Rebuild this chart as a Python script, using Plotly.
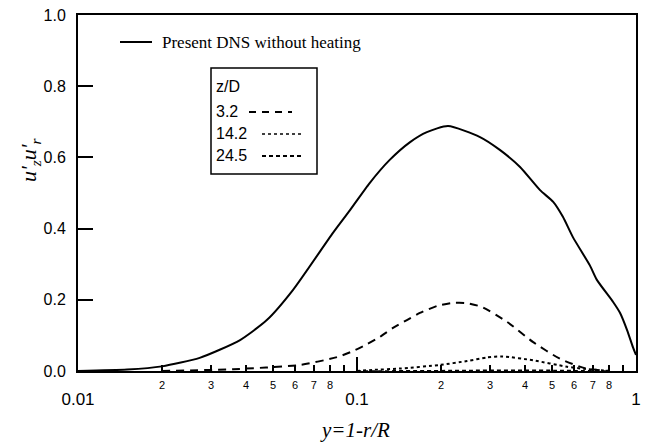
import plotly.graph_objects as go

# Data (y = 1 - r/R, log scale)
x_dns = [0.01, 0.015, 0.02, 0.0273, 0.0381, 0.0475, 0.059, 0.082, 0.0944, 0.111, 0.131, 0.155, 0.178, 0.212,
         0.276, 0.325, 0.384, 0.453, 0.505, 0.547, 0.594, 0.684, 0.724, 0.828, 0.877, 0.929, 0.975, 1.0]
y_dns = [0.0, 0.004, 0.013, 0.037, 0.087, 0.143, 0.228, 0.388, 0.452, 0.528, 0.593, 0.643, 0.671, 0.688,
         0.657, 0.621, 0.573, 0.508, 0.475, 0.433, 0.376, 0.296, 0.256, 0.194, 0.163, 0.115, 0.067, 0.045]

x_32 = [0.02, 0.036, 0.0625, 0.0848, 0.0968, 0.109, 0.121, 0.1346, 0.151, 0.168, 0.194, 0.219, 0.244, 0.28,
        0.345, 0.428, 0.535, 0.655, 0.80]
y_32 = [0.0, 0.005, 0.017, 0.039, 0.056, 0.076, 0.096, 0.121, 0.143, 0.163, 0.183, 0.191, 0.191, 0.18,
        0.138, 0.081, 0.034, 0.008, 0.0]

x_142 = [0.1, 0.114, 0.143, 0.198, 0.248, 0.292, 0.333, 0.428, 0.566, 0.65, 0.80]
y_142 = [0.0, 0.003, 0.007, 0.017, 0.028, 0.038, 0.041, 0.03, 0.012, 0.006, 0.0]

x_245 = [0.1, 0.2, 0.3, 0.45, 0.6, 0.8]
y_245 = [0.0, 0.001, 0.002, 0.002, 0.001, 0.0]

minor_vals = [0.02, 0.03, 0.04, 0.05, 0.06, 0.07, 0.08, 0.09,
              0.2, 0.3, 0.4, 0.5, 0.6, 0.7, 0.8, 0.9]
minor_text = ["2", "3", "4", "5", "6", "7", "8", "",
              "2", "3", "4", "5", "6", "7", "8", ""]
major_vals = [0.01, 0.1, 1]
major_text = ["0.01", "0.1", "1"]
y_ticks = [0.0, 0.2, 0.4, 0.6, 0.8, 1.0]
y_text = ["0.0", "0.2", "0.4", "0.6", "0.8", "1.0"]

fig = go.Figure()
fig.add_trace(go.Scatter(x=x_dns, y=y_dns, mode="lines", line=dict(color="black", width=2, shape="spline", smoothing=0.6), showlegend=False))
fig.add_trace(go.Scatter(x=x_32, y=y_32, mode="lines", line=dict(color="black", width=2, dash="8px,6px", shape="spline", smoothing=0.6), showlegend=False))
fig.add_trace(go.Scatter(x=x_142, y=y_142, mode="lines", line=dict(color="black", width=2, dash="dot", shape="spline", smoothing=0.6), showlegend=False))
fig.add_trace(go.Scatter(x=x_245, y=y_245, mode="lines", xaxis="x2", line=dict(color="black", width=1.5, dash="4px,3px", shape="spline"), showlegend=False))

axfont = dict(family="Liberation Sans, Arial", size=16, color="black")

fig.update_layout(
    width=648, height=448,
    margin=dict(l=78, r=12, t=15, b=77),
    paper_bgcolor="white", plot_bgcolor="white",
    xaxis=dict(type="log", range=[-2, 0], tickvals=minor_vals, ticktext=minor_text,
               ticks="inside", ticklen=6, tickwidth=1.5, tickcolor="black",
               tickfont=dict(family="Liberation Sans, Arial", size=11, color="black"),
               showline=True, linecolor="black", linewidth=2, mirror=True,
               showgrid=False, zeroline=False, ticklabelstandoff=3, automargin=False),
    xaxis2=dict(type="log", range=[-2, 0], overlaying="x", anchor="y", side="bottom",
                tickvals=major_vals, ticktext=major_text,
                ticks="inside", ticklen=14, tickwidth=1.5, tickcolor="black",
                tickfont=dict(family="Liberation Sans, Arial", size=17, color="black"),
                showline=False, showgrid=False, zeroline=False, ticklabelstandoff=16, automargin=False),
    yaxis=dict(range=[0, 1], tickvals=y_ticks, ticktext=y_text,
               ticks="inside", ticklen=15, tickwidth=2, tickcolor="black",
               tickfont=axfont, showline=True, linecolor="black", linewidth=2, mirror=True,
               showgrid=False, zeroline=False, ticklabelstandoff=7, automargin=False),
)

def px(xp):
    return (xp - 78) / 558.0

def py(yp):
    return (371 - yp) / 356.0

def note(xp, yp, text, font, xanchor="left", angle=0):
    fig.add_annotation(x=px(xp), y=py(yp), xref="paper", yref="paper", showarrow=False,
                       xanchor=xanchor, yanchor="middle", textangle=angle, text=text, font=font)

serif = "Liberation Serif, Times New Roman"

# Axis titles
note(355, 430, "<i>y=1-r/R</i>", dict(family=serif, size=21, color="black"), xanchor="center")
note(30, 160, "<i>u'<sub>z</sub>u'<sub>r</sub></i>", dict(family=serif, size=22, color="black"), xanchor="center", angle=-90)

# Legend: DNS entry
fig.add_shape(type="line", xref="paper", yref="paper", x0=px(120), x1=px(152), y0=py(42), y1=py(42),
              line=dict(color="black", width=2))
note(160, 42, "Present DNS without heating", dict(family=serif, size=17, color="black"))

# Legend box for z/D
fig.add_shape(type="rect", xref="paper", yref="paper", x0=px(211), x1=px(317), y0=py(174), y1=py(68),
              line=dict(color="black", width=1.5))
lfont = dict(family="Liberation Sans, Arial", size=16, color="black")
note(214, 86, "z/D", lfont)
note(214, 111, "3.2", lfont)
note(214, 133, "14.2", lfont)
note(214, 155, "24.5", lfont)
fig.add_shape(type="line", xref="paper", yref="paper", x0=px(249), x1=px(292), y0=py(112), y1=py(112),
              line=dict(color="black", width=2, dash="7px,6px"))
fig.add_shape(type="line", xref="paper", yref="paper", x0=px(262), x1=px(302), y0=py(134), y1=py(134),
              line=dict(color="black", width=1.5, dash="dot"))
fig.add_shape(type="line", xref="paper", yref="paper", x0=px(262), x1=px(302), y0=py(156), y1=py(156),
              line=dict(color="black", width=2, dash="4px,3px"))

fig.write_html("out.html")
